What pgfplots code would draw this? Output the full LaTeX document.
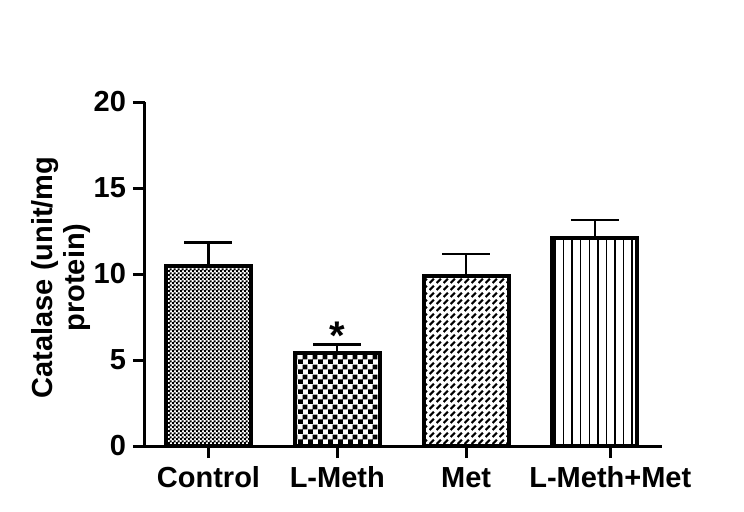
\documentclass[border=0pt]{standalone}
\usepackage{fontspec}
\setmainfont{Liberation Sans}
\usepackage{pgfplots}
\pgfplotsset{compat=1.18}
\usetikzlibrary{patterns,patterns.meta}

% fine dot/checker for Control
\pgfdeclarepatternformonly{finecheck}{\pgfpointorigin}{\pgfqpoint{2pt}{2pt}}{\pgfqpoint{2pt}{2pt}}{%
  \pgfpathrectangle{\pgfpointorigin}{\pgfqpoint{1.2pt}{1.2pt}}%
  \pgfpathrectangle{\pgfqpoint{1pt}{1pt}}{\pgfqpoint{1.2pt}{1.2pt}}%
  \pgfusepath{fill}}
% coarse checkerboard for L-Meth
\pgfdeclarepatternformonly{bigcheck}{\pgfpointorigin}{\pgfqpoint{4.8pt}{4.8pt}}{\pgfqpoint{4.8pt}{4.8pt}}{%
  \pgfpathrectangle{\pgfpointorigin}{\pgfqpoint{2.45pt}{2.45pt}}%
  \pgfpathrectangle{\pgfqpoint{2.4pt}{2.4pt}}{\pgfqpoint{2.45pt}{2.45pt}}%
  \pgfusepath{fill}}
% broken diagonal dashes for Met
\pgfdeclarepatternformonly{dashdiag}{\pgfpointorigin}{\pgfqpoint{3.3pt}{3.3pt}}{\pgfqpoint{3.3pt}{3.3pt}}{%
  \pgfsetlinewidth{1.2pt}%
  \pgfpathmoveto{\pgfqpoint{0.3pt}{0.5pt}}%
  \pgfpathlineto{\pgfqpoint{2.6pt}{2.8pt}}%
  \pgfusepath{stroke}}

\newcommand{\chartfont}{\bfseries\fontsize{14.5}{16}\selectfont}

\begin{document}
\begin{tikzpicture}
\path[use as bounding box] (-72.5pt,-32.5pt) rectangle (299.5pt,223pt);
\begin{axis}[
  at={(0,0)}, anchor=south west,
  scale only axis,
  width=258.35pt, height=172pt,
  xmin=-0.493, xmax=3.519,
  ymin=0, ymax=20,
  axis lines=left,
  axis line style={-, line width=1.5pt},
  ybar, bar width=42.5pt, bar shift=0pt,
  xtick={0,1,2,3.12},
  xticklabels={Control, L-Meth, Met, L-Meth+Met},
  ytick={0,5,10,15,20},
  tick align=outside,
  major tick length=6pt,
  tick style={line width=1.5pt, black},
  /pgf/number format/assume math mode=true,
  tick label style={font=\chartfont},
  xticklabel style={text height=11pt},
  ylabel={Catalase (unit/mg\\protein)},
  ylabel style={font=\chartfont, align=center, at={(axis description cs:-0.163,0.49)}, anchor=center},
  every axis plot/.append style={draw=black, line width=2pt},
  error bars/y dir=plus,
  error bars/y explicit,
  error bars/error mark=|,
  error bars/error bar style={line width=1.2pt, black},
  error bars/error mark options={line width=1.2pt, black, mark size=12pt},
]
\addplot[pattern=finecheck] coordinates {(0,10.45) +- (0,1.39)};
\addplot[pattern=bigcheck] coordinates {(1,5.39) +- (0,0.52)};
\addplot[pattern=dashdiag] coordinates {(2,9.88) +- (0,1.28)};
\addplot[pattern={Lines[angle=90,distance=4.27pt,line width=0.7pt]}] coordinates {(3,12.08) +- (0,1.06)};
\node[font=\bfseries\fontsize{20}{20}\selectfont, anchor=base] at (axis cs:1,5.6) {*};
\end{axis}
\end{tikzpicture}
\end{document}
